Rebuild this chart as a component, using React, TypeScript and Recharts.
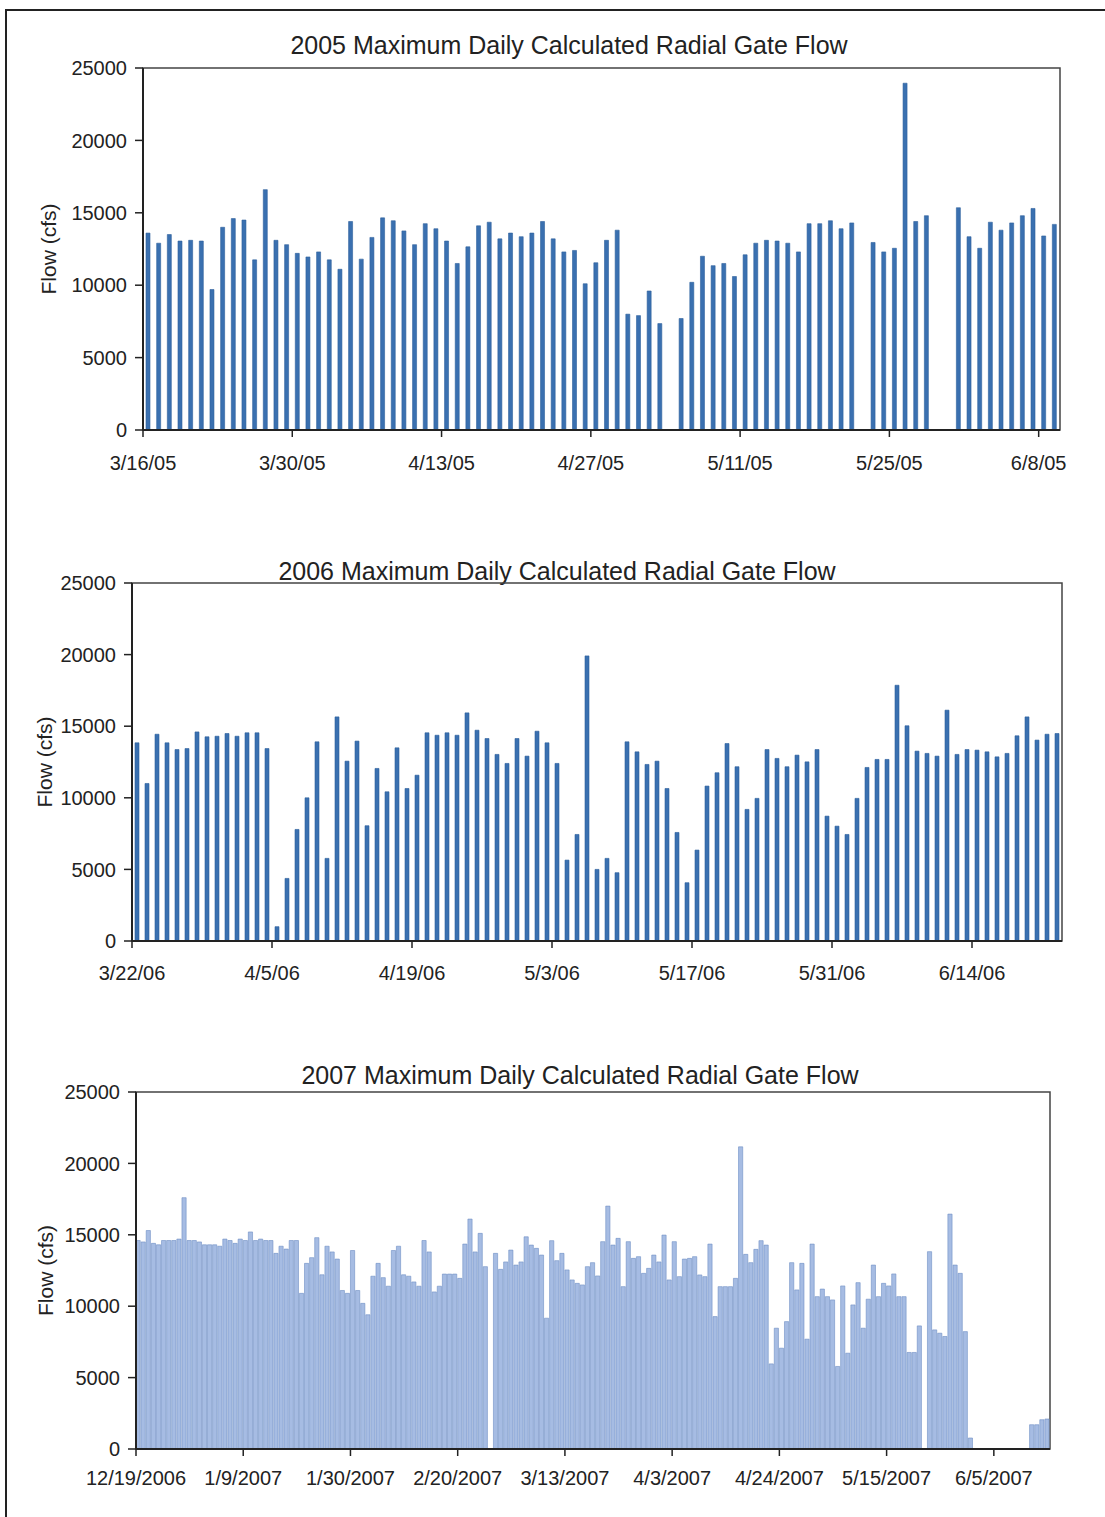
import React from 'react';
import { BarChart, Bar, XAxis, YAxis, ReferenceArea, Label } from 'recharts';

const FONT = '"Liberation Sans", Arial, sans-serif';

// 2005 season, one value per day from 3/16/05 (null = no data)
const flow2005 = [
  13600, 12900, 13500, 13050, 13100, 13050, 9700, 14000, 14600, 14500,
  11750, 16600, 13100, 12800, 12200, 11950, 12300, 11750, 11100, 14400,
  11800, 13300, 14650, 14450, 13750, 12800, 14250, 13900, 13050, 11500,
  12650, 14100, 14350, 13200, 13600, 13350, 13600, 14400, 13200, 12300,
  12400, 10100, 11550, 13100, 13800, 8000, 7900, 9600, 7350, null,
  7700, 10200, 12000, 11350, 11500, 10600, 12100, 12900, 13100, 13050,
  12900, 12300, 14250, 14250, 14450, 13900, 14300, null, 12950, 12300,
  12550, 23950, 14400, 14800, null, null, 15350, 13350, 12550, 14350,
  13800, 14300, 14800, 15300, 13400, 14200,
];

// 2006 season, from 3/22/06
const flow2006 = [
  13840, 11000, 14440, 13840, 13370, 13440, 14600, 14260, 14300, 14490,
  14300, 14540, 14540, 13440, 1000, 4370, 7790, 10000, 13910, 5770,
  15650, 12560, 13960, 8050, 12050, 10420, 13490, 10650, 11580, 14540,
  14370, 14540, 14370, 15930, 14720, 14140, 13030, 12400, 14140, 12910,
  14650, 13840, 12400, 5650, 7440, 19910, 5000, 5770, 4770, 13910,
  13210, 12330, 12560, 10650, 7580, 4070, 6350, 10820, 11750, 13790,
  12170, 9190, 9960, 13370, 12750, 12170, 12980, 12510, 13370, 8720,
  8020, 7440, 9960, 12120, 12680, 12680, 17860, 15030, 13260, 13100,
  12910, 16120, 13030, 13370, 13330, 13210, 12860, 13100, 14330, 15650,
  14030, 14440, 14490,
];

// 2007 season, from 12/19/2006
const flow2007 = [
  14600, 14500, 15300, 14400, 14300, 14600, 14600, 14600, 14700, 17600,
  14600, 14600, 14500, 14300, 14300, 14300, 14200, 14700, 14600, 14400,
  14700, 14600, 15200, 14600, 14700, 14600, 14600, 13700, 14200, 14000,
  14600, 14600, 10900, 13000, 13400, 14800, 12200, 14200, 13800, 13300,
  11100, 10900, 13900, 11100, 10200, 9400, 12100, 13000, 12000, 11400,
  13900, 14200, 12200, 12100, 11700, 11400, 14600, 13800, 11000, 11400,
  12250, 12250, 12250, 11950, 14350, 16100, 13800, 15100, 12770, null,
  13700, 12580, 13100, 13930, 12880, 13100, 14860, 14280, 14050, 13580,
  9160, 14590, 13190, 13700, 12540, 11840, 11600, 11490, 12770, 13050,
  12120, 14520, 17010, 14280, 14750, 11370, 14520, 13350, 13470, 12300,
  12650, 13580, 13100, 14980, 11840, 14520, 12070, 13300, 13350, 13470,
  12190, 12070, 14350, 9270, 11370, 11370, 11370, 11950, 21160, 13630,
  13050, 13980, 14590, 14280, 5960, 8460, 7060, 8920, 13050, 11140,
  13000, 7690, 14350, 10670, 11200, 10670, 10440, 5780, 11420, 6710,
  10090, 11650, 8460, 10490, 12880, 10670, 11600, 11420, 12260, 10670,
  10670, 6760, 6760, 8620, null, 13820, 8340, 8110, 7880, 16450,
  12880, 12300, 8220, 770, null, null, null, null, null, null,
  null, null, null, null, null, 1700, 1700, 2050, 2100,
];

const ticks2005 = ['3/16/05', '3/30/05', '4/13/05', '4/27/05', '5/11/05', '5/25/05', '6/8/05'];
const ticks2006 = ['3/22/06', '4/5/06', '4/19/06', '5/3/06', '5/17/06', '5/31/06', '6/14/06'];
const ticks2007 = ['12/19/2006', '1/9/2007', '1/30/2007', '2/20/2007', '3/13/2007', '4/3/2007', '4/24/2007', '5/15/2007', '6/5/2007'];

const yTicks = [0, 5000, 10000, 15000, 20000, 25000];

function dayLabels(year: number, month: number, day: number, n: number, fullYear: boolean) {
  const out: string[] = [];
  for (let i = 0; i < n; i++) {
    const dt = new Date(Date.UTC(year, month, day + i));
    const y = String(dt.getUTCFullYear());
    out.push(`${dt.getUTCMonth() + 1}/${dt.getUTCDate()}/${fullYear ? y : y.slice(2)}`);
  }
  return out;
}

const days2005 = dayLabels(2005, 2, 16, flow2005.length, false);
const days2006 = dayLabels(2006, 2, 22, flow2006.length, false);
const days2007 = dayLabels(2006, 11, 19, flow2007.length, true);

const X_TICK_SIZE = 7;
const X_TICK_MARGIN = 4;

type PanelProps = {
  title: string;
  dates: string[];
  values: (number | null)[];
  ticks: string[];
  top: number;
  height: number;
  plotTop: number;
  plotLeft: number;
  plotRight: number;
  labelDrop: number;
  yLabelX: number;
  titleX: number;
  titleY: number;
  fill: string;
  stroke: string;
  barSize: number;
};

const makeDateTick = (drop: number) => (props: any) => {
  const { x, y, payload } = props;
  const left = x - (payload.offset || 0);
  const axisY = y - X_TICK_SIZE - X_TICK_MARGIN;
  return (
    <g>
      <line x1={left} x2={left} y1={axisY} y2={axisY + X_TICK_SIZE} stroke="#222" strokeWidth={1.5} />
      <text x={left} y={axisY + drop} dy="0.35em" textAnchor="middle" fontSize={20} fill="#222">
        {payload.value}
      </text>
    </g>
  );
};

const makeYLabel = (x: number) => (props: any) => {
  const vb = props.viewBox;
  const cy = vb.y + vb.height / 2;
  return (
    <text x={x} y={cy} transform={`rotate(-90 ${x} ${cy})`} textAnchor="middle" dominantBaseline="central" fontSize={21} fill="#222">
      Flow (cfs)
    </text>
  );
};

function Panel(p: PanelProps) {
  const data = p.dates.map((date, i) => ({ date, flow: p.values[i] }));
  return (
    <div style={{ position: 'absolute', left: 0, top: p.top, width: 1105, height: p.height }}>
      <div
        style={{
          position: 'absolute', left: p.titleX, top: p.titleY, transform: 'translate(-50%, -50%)',
          whiteSpace: 'nowrap', fontSize: 25, color: '#222',
        }}
      >
        {p.title}
      </div>
      <BarChart
        width={1105}
        height={p.height}
        data={data}
        margin={{ top: p.plotTop, right: p.plotRight, bottom: 10, left: 0 }}
      >
        <XAxis
          dataKey="date"
          ticks={p.ticks}
          interval={0}
          tickLine={false}
          tickSize={X_TICK_SIZE}
          tickMargin={X_TICK_MARGIN}
          tick={makeDateTick(p.labelDrop)}
          height={50}
          axisLine={{ stroke: '#222', strokeWidth: 2 }}
        />
        <YAxis
          width={p.plotLeft}
          domain={[0, 25000]}
          ticks={yTicks}
          interval={0}
          tickSize={8}
          tickMargin={8}
          tickLine={{ stroke: '#222', strokeWidth: 1.5 }}
          axisLine={{ stroke: '#222', strokeWidth: 2 }}
          tick={{ fontSize: 20, fill: '#222' }}
        >
          <Label content={makeYLabel(p.yLabelX)} />
        </YAxis>
        <Bar dataKey="flow" fill={p.fill} stroke={p.stroke} strokeWidth={0.6} barSize={p.barSize} isAnimationActive={false} />
        <ReferenceArea y1={0} y2={25000} fill="none" stroke="#444" strokeWidth={1.5} />
      </BarChart>
    </div>
  );
}

export default function App() {
  return (
    <div
      style={{
        position: 'absolute', left: 0, top: 0, width: 1105, height: 1517, overflow: 'hidden',
        background: '#fff', fontFamily: FONT,
      }}
    >
      <div
        style={{
          position: 'absolute', left: 5, top: 9, width: 1200, height: 1600,
          borderTop: '2px solid #222', borderLeft: '2px solid #222',
        }}
      />
      <Panel
        title="2005 Maximum Daily Calculated Radial Gate Flow"
        dates={days2005}
        values={flow2005}
        ticks={ticks2005}
        top={0}
        height={490}
        plotTop={68}
        plotLeft={143}
        plotRight={45}
        labelDrop={33}
        yLabelX={48}
        titleX={569}
        titleY={45}
        fill="#3a70b0"
        stroke="#2d5f9c"
        barSize={4}
      />
      <Panel
        title="2006 Maximum Daily Calculated Radial Gate Flow"
        dates={days2006}
        values={flow2006}
        ticks={ticks2006}
        top={500}
        height={501}
        plotTop={83}
        plotLeft={132}
        plotRight={43}
        labelDrop={32}
        yLabelX={44}
        titleX={557}
        titleY={71}
        fill="#3a70b0"
        stroke="#2d5f9c"
        barSize={4}
      />
      <Panel
        title="2007 Maximum Daily Calculated Radial Gate Flow"
        dates={days2007}
        values={flow2007}
        ticks={ticks2007}
        top={1010}
        height={499}
        plotTop={82}
        plotLeft={136}
        plotRight={55}
        labelDrop={29}
        yLabelX={45}
        titleX={580}
        titleY={65}
        fill="#a6bce3"
        stroke="#6f8fc4"
        barSize={4.2}
      />
    </div>
  );
}
